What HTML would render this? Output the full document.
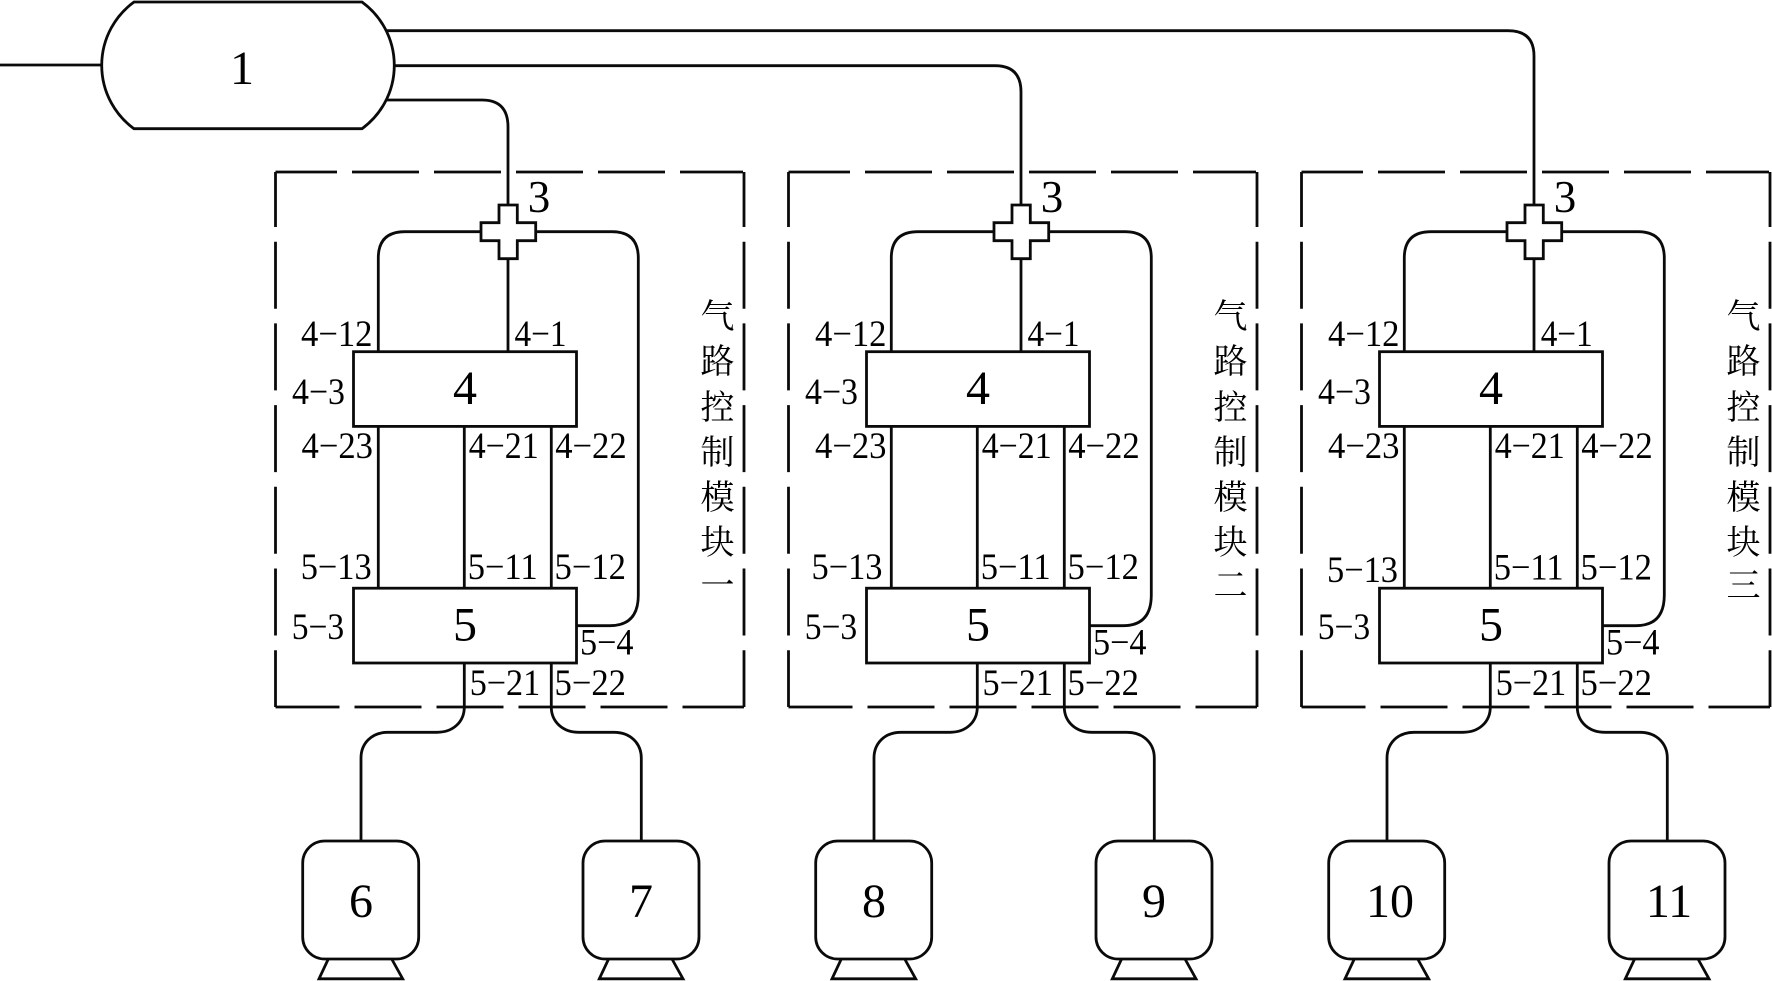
<!DOCTYPE html>
<html><head><meta charset="utf-8">
<style>
html,body{margin:0;padding:0;background:#fff;width:1772px;height:981px;overflow:hidden}
svg{display:block}
.s{fill:none;stroke:#0a0a0a;stroke-width:2.8}
.b{fill:#fff;stroke:#0a0a0a;stroke-width:2.8}
text{font-family:"Liberation Serif","Noto Serif CJK SC",serif;fill:#000}
.l{font-size:37px}
.n{font-size:48px;text-anchor:middle}
.c{font-family:"Noto Serif CJK SC","Liberation Serif",serif;font-size:34px;text-anchor:middle}
</style></head><body>
<svg width="1772" height="981" viewBox="0 0 1772 981" xmlns="http://www.w3.org/2000/svg">
<defs>
<g id="m">
  <path class="s" d="M275.5 172H743" stroke-dasharray="67 15" stroke-dashoffset="5.5"/>
  <path class="s" d="M275.5 707H744" stroke-dasharray="67 15" stroke-dashoffset="3"/>
  <path class="s" d="M275.5 172V707" stroke-dasharray="67 14.7" stroke-dashoffset="12"/>
  <path class="s" d="M744 172V707" stroke-dasharray="67 14.7" stroke-dashoffset="12"/>
  <path class="s" d="M508 258V352"/>
  <path class="s" d="M378.3 352V258Q378.3 231.7 405 231.7H481M535.7 231.7H612Q638.3 231.7 638.3 258V595Q638.3 625.7 610 625.7H576"/>
  <path class="s" d="M378.3 426V588M464.3 426V588M551.3 426V588"/>
  <path class="b" d="M499 205H517.3V222.7H535.7V240.7H517.3V258.7H499V240.7H481V222.7H499Z"/>
  <rect class="b" x="353.5" y="351.7" width="223" height="74.7"/>
  <rect class="b" x="353.5" y="588.2" width="223" height="74.8"/>
  <path class="s" d="M464.3 663V707C464.3 722 453 732.3 437 732.3H388C371 732.3 361 744 361 758V841"/>
  <path class="s" d="M551.3 663V707C551.3 722 563 732.3 579 732.3H614C631 732.3 641.3 744 641.3 758V841"/>
  <rect class="b" x="302.7" y="841" width="116" height="118" rx="22" ry="22"/>
  <rect class="b" x="583" y="841" width="116" height="118" rx="22" ry="22"/>
  <path class="s" d="M328.3 959L319 978.8H402.7L391.7 959"/>
  <path class="s" d="M608.6 959L599.3 978.8H683L672 959"/>
</g>
</defs>
<rect width="1772" height="981" fill="#fff"/>
<path class="s" d="M0 65H101.5"/>
<path class="s" d="M386 30.7H1508Q1534 30.7 1534 56V205"/>
<path class="s" d="M394 65.7H995Q1021 65.7 1021 92V205"/>
<path class="s" d="M386 100H482Q508 100 508 127V205"/>
<path class="b" d="M134 2H362A78.3 78.3 0 0 1 362 128.7H134A78.3 78.3 0 0 1 134 2Z"/>
<text class="n" x="242" y="84">1</text>

<use href="#m"/>
<use href="#m" x="513"/>
<use href="#m" x="1026"/>

<g>
<text class="n" x="539" y="212" style="font-size:45px">3</text>
<text class="l" x="301" y="346" textLength="71.5" lengthAdjust="spacingAndGlyphs">4−12</text>
<text class="l" x="514.5" y="346" textLength="52" lengthAdjust="spacingAndGlyphs">4−1</text>
<text class="l" x="292" y="404" textLength="53" lengthAdjust="spacingAndGlyphs">4−3</text>
<text class="n" x="465" y="404">4</text>
<text class="l" x="301.5" y="458" textLength="71.5" lengthAdjust="spacingAndGlyphs">4−23</text>
<text class="l" x="468.7" y="458" textLength="70" lengthAdjust="spacingAndGlyphs">4−21</text>
<text class="l" x="555.2" y="458" textLength="71.5" lengthAdjust="spacingAndGlyphs">4−22</text>
<text class="l" x="300.7" y="579" textLength="71" lengthAdjust="spacingAndGlyphs">5−13</text>
<text class="l" x="467.7" y="579" textLength="70" lengthAdjust="spacingAndGlyphs">5−11</text>
<text class="l" x="554.5" y="579" textLength="71.5" lengthAdjust="spacingAndGlyphs">5−12</text>
<text class="l" x="291.7" y="639" textLength="52.5" lengthAdjust="spacingAndGlyphs">5−3</text>
<text class="n" x="465" y="640.5">5</text>
<text class="l" x="580" y="654.5" textLength="53.5" lengthAdjust="spacingAndGlyphs">5−4</text>
<text class="l" x="469.7" y="695" textLength="70.5" lengthAdjust="spacingAndGlyphs">5−21</text>
<text class="l" x="554.5" y="695" textLength="71.5" lengthAdjust="spacingAndGlyphs">5−22</text>
<text class="c" x="717.5" y="328">气</text>
<text class="c" x="717.5" y="373">路</text>
<text class="c" x="717.5" y="419">控</text>
<text class="c" x="717.5" y="464">制</text>
<text class="c" x="717.5" y="509">模</text>
<text class="c" x="717.5" y="554">块</text>
<text class="c" x="717.5" y="597">一</text>
<text class="n" x="361" y="917">6</text>
<text class="n" x="641" y="917">7</text>
</g>

<g>
<text class="n" x="1052" y="212" style="font-size:45px">3</text>
<text class="l" x="815" y="346" textLength="71.5" lengthAdjust="spacingAndGlyphs">4−12</text>
<text class="l" x="1027.5" y="346" textLength="52" lengthAdjust="spacingAndGlyphs">4−1</text>
<text class="l" x="805" y="404" textLength="53" lengthAdjust="spacingAndGlyphs">4−3</text>
<text class="n" x="978" y="404">4</text>
<text class="l" x="815" y="458" textLength="71.5" lengthAdjust="spacingAndGlyphs">4−23</text>
<text class="l" x="981.7" y="458" textLength="70" lengthAdjust="spacingAndGlyphs">4−21</text>
<text class="l" x="1068.2" y="458" textLength="71.5" lengthAdjust="spacingAndGlyphs">4−22</text>
<text class="l" x="811.5" y="579" textLength="71" lengthAdjust="spacingAndGlyphs">5−13</text>
<text class="l" x="980.7" y="579" textLength="70" lengthAdjust="spacingAndGlyphs">5−11</text>
<text class="l" x="1067.5" y="579" textLength="71.5" lengthAdjust="spacingAndGlyphs">5−12</text>
<text class="l" x="804.7" y="639" textLength="52.5" lengthAdjust="spacingAndGlyphs">5−3</text>
<text class="n" x="978" y="640.5">5</text>
<text class="l" x="1093" y="654.5" textLength="53.5" lengthAdjust="spacingAndGlyphs">5−4</text>
<text class="l" x="982.5" y="695" textLength="70.5" lengthAdjust="spacingAndGlyphs">5−21</text>
<text class="l" x="1067.5" y="695" textLength="71.5" lengthAdjust="spacingAndGlyphs">5−22</text>
<text class="c" x="1230.5" y="328">气</text>
<text class="c" x="1230.5" y="373">路</text>
<text class="c" x="1230.5" y="419">控</text>
<text class="c" x="1230.5" y="464">制</text>
<text class="c" x="1230.5" y="509">模</text>
<text class="c" x="1230.5" y="554">块</text>
<text class="c" x="1230.5" y="597">二</text>
<text class="n" x="874" y="917">8</text>
<text class="n" x="1154" y="917">9</text>
</g>

<g>
<text class="n" x="1565" y="212" style="font-size:45px">3</text>
<text class="l" x="1328" y="346" textLength="71.5" lengthAdjust="spacingAndGlyphs">4−12</text>
<text class="l" x="1540.7" y="346" textLength="52" lengthAdjust="spacingAndGlyphs">4−1</text>
<text class="l" x="1318" y="404" textLength="53" lengthAdjust="spacingAndGlyphs">4−3</text>
<text class="n" x="1491" y="404">4</text>
<text class="l" x="1328" y="458" textLength="71.5" lengthAdjust="spacingAndGlyphs">4−23</text>
<text class="l" x="1494.7" y="458" textLength="70" lengthAdjust="spacingAndGlyphs">4−21</text>
<text class="l" x="1581.2" y="458" textLength="71.5" lengthAdjust="spacingAndGlyphs">4−22</text>
<text class="l" x="1327" y="582" textLength="71" lengthAdjust="spacingAndGlyphs">5−13</text>
<text class="l" x="1493.7" y="579.5" textLength="70" lengthAdjust="spacingAndGlyphs">5−11</text>
<text class="l" x="1580.5" y="579.5" textLength="71.5" lengthAdjust="spacingAndGlyphs">5−12</text>
<text class="l" x="1317.7" y="639" textLength="52.5" lengthAdjust="spacingAndGlyphs">5−3</text>
<text class="n" x="1491" y="640.5">5</text>
<text class="l" x="1606" y="654.5" textLength="53.5" lengthAdjust="spacingAndGlyphs">5−4</text>
<text class="l" x="1495.7" y="695" textLength="70.5" lengthAdjust="spacingAndGlyphs">5−21</text>
<text class="l" x="1580.5" y="695" textLength="71.5" lengthAdjust="spacingAndGlyphs">5−22</text>
<text class="c" x="1743.5" y="328">气</text>
<text class="c" x="1743.5" y="373">路</text>
<text class="c" x="1743.5" y="419">控</text>
<text class="c" x="1743.5" y="464">制</text>
<text class="c" x="1743.5" y="509">模</text>
<text class="c" x="1743.5" y="554">块</text>
<text class="c" x="1743.5" y="597">三</text>
<text class="n" x="1390" y="917">10</text>
<text class="n" x="1669" y="917">11</text>
</g>
</svg>
</body></html>
